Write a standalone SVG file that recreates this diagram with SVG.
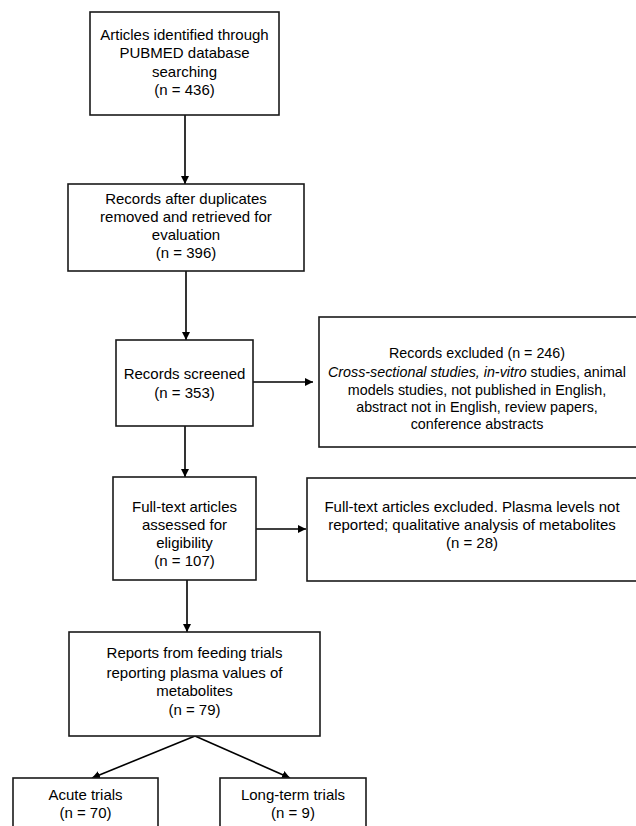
<svg xmlns="http://www.w3.org/2000/svg" width="636" height="826" viewBox="0 0 636 826">
<defs>
<style>
.box{fill:#fff;stroke:#1a1a1a;stroke-width:1.6}
.t{font-family:"Liberation Sans",Arial,sans-serif;font-size:15px;fill:#000;text-anchor:middle}
.s{font-size:14.3px}
.c{stroke:#000;stroke-width:1.6;fill:none;marker-end:url(#ah)}
</style>
<marker id="ah" viewBox="0 0 10 10" refX="10" refY="5" markerWidth="8" markerHeight="8" markerUnits="userSpaceOnUse" orient="auto">
<path d="M0,0 L10,5 L0,10 z" fill="#000"/>
</marker>
</defs>
<rect width="636" height="826" fill="#fff"/>
<g id="connectors">
<line class="c" x1="185" y1="115" x2="185" y2="184"/>
<line class="c" x1="186" y1="271" x2="186" y2="340"/>
<line class="c" x1="253" y1="382" x2="313" y2="382"/>
<line class="c" x1="185" y1="426" x2="185" y2="477"/>
<line class="c" x1="256" y1="529" x2="306" y2="529"/>
<line class="c" x1="187" y1="580" x2="187" y2="632"/>
<line class="c" x1="195" y1="736" x2="92" y2="778"/>
<line class="c" x1="195" y1="736" x2="290" y2="778"/>
</g>
<g id="n1">
<rect class="box" x="90" y="12" width="189" height="103"/>
<text class="t" x="184.5" y="40">Articles identified through</text>
<text class="t" x="184.5" y="58">PUBMED database</text>
<text class="t" x="184.5" y="77">searching</text>
<text class="t" x="184.5" y="95">(n = 436)</text>
</g>
<g id="n2">
<rect class="box" x="68" y="184" width="236" height="87"/>
<text class="t" x="186" y="204">Records after duplicates</text>
<text class="t" x="186" y="222">removed and retrieved for</text>
<text class="t" x="186" y="240">evaluation</text>
<text class="t" x="186" y="258">(n =  396)</text>
</g>
<g id="n3">
<rect class="box" x="116" y="340" width="137" height="86"/>
<text class="t" x="184.5" y="379">Records screened</text>
<text class="t" x="184.5" y="398">(n = 353)</text>
</g>
<g id="n4">
<rect class="box" x="319" y="317" width="330" height="130"/>
<text class="t s" x="477" y="358">Records excluded (n = 246)</text>
<text class="t s" x="477" y="377"><tspan font-style="italic">Cross-sectional studies, in-vitro</tspan> studies, animal</text>
<text class="t s" x="477" y="395">models studies, not published in English,</text>
<text class="t s" x="477" y="412">abstract not in English, review papers,</text>
<text class="t s" x="477" y="429">conference abstracts</text>
</g>
<g id="n5">
<rect class="box" x="113" y="477" width="143" height="103"/>
<text class="t" x="184.5" y="512">Full-text articles</text>
<text class="t" x="184.5" y="530">assessed for</text>
<text class="t" x="184.5" y="548">eligibility</text>
<text class="t" x="184.5" y="566">(n = 107)</text>
</g>
<g id="n6">
<rect class="box" x="307" y="478" width="340" height="103"/>
<text class="t" x="472" y="512">Full-text articles excluded. Plasma levels not</text>
<text class="t" x="472" y="530">reported; qualitative analysis of metabolites</text>
<text class="t" x="472" y="548">(n = 28)</text>
</g>
<g id="n7">
<rect class="box" x="69" y="632" width="251" height="104"/>
<text class="t" x="194.5" y="658">Reports from feeding trials</text>
<text class="t" x="194.5" y="678">reporting plasma values of</text>
<text class="t" x="194.5" y="696">metabolites</text>
<text class="t" x="194.5" y="715">(n = 79)</text>
</g>
<g id="n8">
<rect class="box" x="13" y="778" width="145" height="60"/>
<text class="t" x="85.5" y="800">Acute trials</text>
<text class="t" x="85.5" y="818">(n = 70)</text>
</g>
<g id="n9">
<rect class="box" x="220" y="778" width="146" height="60"/>
<text class="t" x="293" y="800">Long-term trials</text>
<text class="t" x="293" y="818">(n = 9)</text>
</g>
</svg>
